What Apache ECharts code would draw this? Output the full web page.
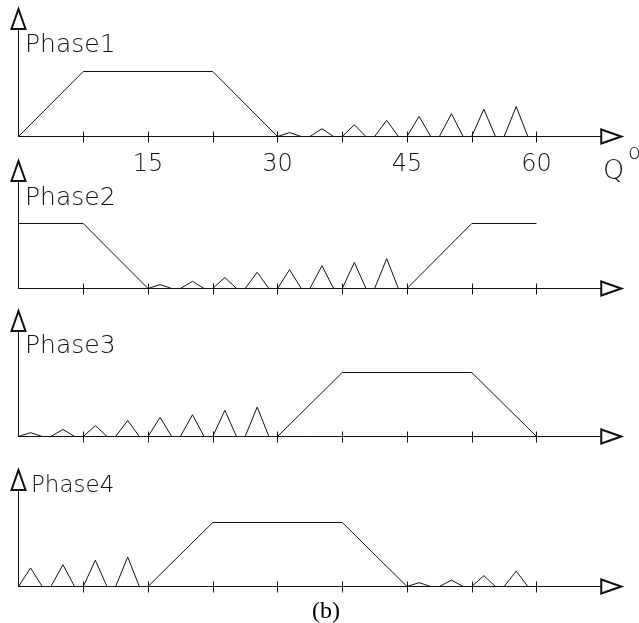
<!DOCTYPE html>
<html>
<head>
<meta charset="utf-8">
<script src="https://cdn.jsdelivr.net/npm/echarts@6/dist/echarts.min.js"></script>
<style>
html, body { margin: 0; padding: 0; background: #fff; }
#chart { width: 639px; height: 623px; }
</style>
</head>
<body>
<div id="chart"></div>
<script>
// labels
const phaseNames = ['Phase1', 'Phase2', 'Phase3', 'Phase4']
const tickValues = [7.5, 15, 22.5, 30, 37.5, 45, 52.5, 60]
const tickLabels = [15, 30, 45, 60]
const axisName = 'Q'
const axisNameSup = 'o'
const caption = '(b)'

// trapezoid segments per phase, [angle, level]
const phase1Trap = [[[0, 0], [7.5, 1], [22.5, 1], [30, 0]]]
const phase2Trap = [[[0, 1], [7.5, 1], [15, 0]], [[45, 0], [52.5, 1], [60, 1]]]
const phase3Trap = [[[30, 0], [37.5, 1], [52.5, 1], [60, 0]]]
const phase4Trap = [[[15, 0], [22.5, 1], [37.5, 1], [45, 0]]]

// small triangles: start angle and peak height
const phase1TriStarts = [30, 33.75, 37.5, 41.25, 45, 48.75, 52.5, 56.25]
const phase1TriHeights = [0.06, 0.12, 0.18, 0.25, 0.31, 0.35, 0.42, 0.46]
const phase2TriStarts = [15, 18.75, 22.5, 26.25, 30, 33.75, 37.5, 41.25]
const phase2TriHeights = [0.06, 0.11, 0.17, 0.25, 0.29, 0.35, 0.40, 0.46]
const phase3TriStarts = [0, 3.75, 7.5, 11.25, 15, 18.75, 22.5, 26.25]
const phase3TriHeights = [0.06, 0.11, 0.17, 0.25, 0.30, 0.34, 0.41, 0.46]
const phase4TriStarts = [0, 3.75, 7.5, 11.25, 45, 48.75, 52.5, 56.25]
const phase4TriHeights = [0.29, 0.34, 0.41, 0.46, 0.06, 0.10, 0.17, 0.24]
const triWidth = 2.75
const triPeak = 1.4

const xMax = 67.5

const phases = [
  { trap: phase1Trap, starts: phase1TriStarts, heights: phase1TriHeights },
  { trap: phase2Trap, starts: phase2TriStarts, heights: phase2TriHeights },
  { trap: phase3Trap, starts: phase3TriStarts, heights: phase3TriHeights },
  { trap: phase4Trap, starts: phase4TriStarts, heights: phase4TriHeights }
]

// layout of the four panels (pixels)
const panels = [
  { top: 29, bottom: 136.5, unit: 65, labelLeft: 25, labelTop: 33, labelSize: 25 },
  { top: 181, bottom: 288.5, unit: 65, labelLeft: 25, labelTop: 185.5, labelSize: 25 },
  { top: 331, bottom: 436.5, unit: 64, labelLeft: 25, labelTop: 334, labelSize: 25 },
  { top: 490, bottom: 586.5, unit: 64, labelLeft: 31, labelTop: 475, labelSize: 23 }
]

const font = '"DejaVu Sans ExtraLight", "DejaVu Sans"'
const ink = '#111'

function triangleLine(starts, heights) {
  const pts = []
  starts.forEach((s, i) => {
    pts.push([s, 0], [s + triPeak, heights[i]], [s + triWidth, 0])
  })
  return pts
}

const arrowLine = {
  show: true,
  onZero: true,
  symbol: ['none', 'emptyTriangle'],
  symbolSize: [14, 20],
  symbolOffset: [0, 10],
  lineStyle: { color: ink, width: 1 }
}

const grid = []
const xAxis = []
const yAxis = []
const series = []
const title = []

panels.forEach((p, i) => {
  grid.push({ left: 18.5, width: 582.75, top: p.top, height: p.bottom - p.top })

  title.push({
    text: phaseNames[i],
    left: p.labelLeft,
    top: p.labelTop,
    padding: 0,
    textStyle: { fontFamily: font, fontWeight: 200, fontSize: p.labelSize, color: ink }
  })

  // main axis: line, arrow, ticks below
  xAxis.push({
    type: 'value',
    gridIndex: i,
    min: 0,
    max: xMax,
    interval: 7.5,
    position: 'bottom',
    axisLine: arrowLine,
    axisTick: { show: true, inside: false, length: 6, customValues: tickValues, lineStyle: { color: ink } },
    axisLabel: {
      show: i === 0,
      customValues: tickLabels,
      margin: 16,
      fontFamily: font,
      fontWeight: 200,
      fontSize: 24,
      color: ink
    },
    splitLine: { show: false }
  })
  // second axis: ticks above the line
  xAxis.push({
    type: 'value',
    gridIndex: i,
    min: 0,
    max: xMax,
    interval: 7.5,
    position: 'bottom',
    axisLine: { show: false },
    axisTick: { show: true, inside: true, length: 5, customValues: tickValues, lineStyle: { color: ink } },
    axisLabel: { show: false },
    splitLine: { show: false }
  })

  yAxis.push({
    type: 'value',
    gridIndex: i,
    min: 0,
    max: (p.bottom - p.top) / p.unit,
    axisLine: arrowLine,
    axisTick: { show: false },
    axisLabel: { show: false },
    splitLine: { show: false }
  })

  const ph = phases[i]
  ph.trap.forEach(seg => {
    series.push({
      type: 'line',
      xAxisIndex: i * 2,
      yAxisIndex: i,
      data: seg,
      showSymbol: false,
      clip: false,
      lineStyle: { color: ink, width: 1 }
    })
  })
  series.push({
    type: 'line',
    xAxisIndex: i * 2,
    yAxisIndex: i,
    data: triangleLine(ph.starts, ph.heights),
    showSymbol: false,
    clip: false,
    lineStyle: { color: ink, width: 1 }
  })
})

// axis name Q with small degree-like o
title.push({
  text: axisName,
  left: 603,
  top: 158,
  padding: 0,
  textStyle: { fontFamily: font, fontWeight: 200, fontSize: 27, color: ink }
})
title.push({
  text: axisNameSup,
  left: 628,
  top: 143,
  padding: 0,
  textStyle: { fontFamily: font, fontWeight: 200, fontSize: 21, color: ink }
})

title.push({
  text: caption,
  left: 312,
  top: 600,
  padding: 0,
  textStyle: { fontFamily: 'Liberation Serif', fontWeight: 'normal', fontSize: 24, color: '#000' }
})

const chart = echarts.init(document.getElementById('chart'))
chart.setOption({
  animation: false,
  backgroundColor: '#fff',
  title,
  grid,
  xAxis,
  yAxis,
  series
})
</script>
</body>
</html>
